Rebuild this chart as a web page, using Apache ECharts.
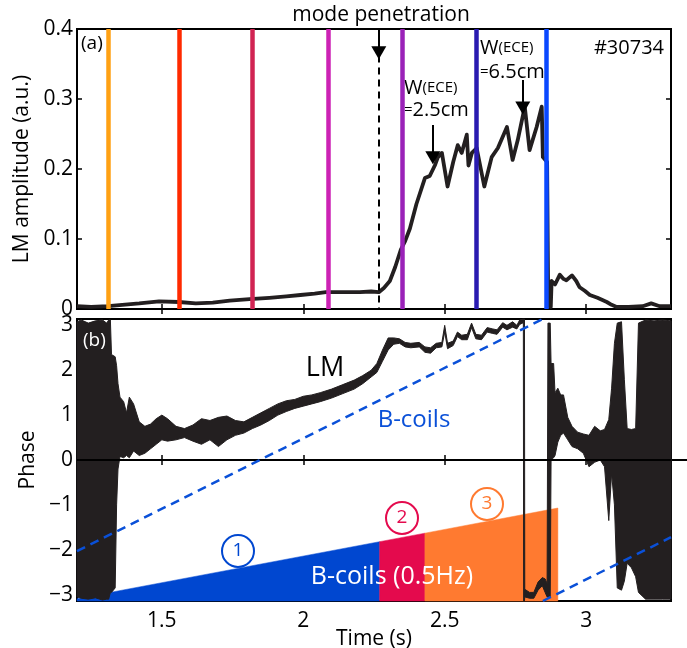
<!DOCTYPE html>
<html>
<head>
<meta charset="utf-8">
<script src="https://cdn.jsdelivr.net/npm/echarts@6/dist/echarts.min.js"></script>
<style>html,body{margin:0;padding:0;background:#fff}#main{width:687px;height:648px}</style>
</head>
<body>
<div id="main"></div>
<script>
var PI = Math.PI;
var FONT = '"Open Sans", sans-serif';

// (a) LM amplitude
var ampTime = [1.20, 1.25, 1.31, 1.36, 1.42, 1.49, 1.56, 1.62, 1.68, 1.74, 1.81, 1.88, 1.94, 1.99, 2.04, 2.08, 2.14, 2.20, 2.24, 2.267,
  2.285, 2.306, 2.325, 2.345, 2.36, 2.377, 2.40, 2.43, 2.447, 2.465, 2.476, 2.49, 2.51, 2.53, 2.546, 2.56, 2.578, 2.584, 2.596, 2.606,
  2.613, 2.64, 2.666, 2.688, 2.72, 2.74, 2.758, 2.783, 2.80, 2.825, 2.843, 2.847, 2.862, 2.866, 2.875, 2.878, 2.89, 2.907, 2.92, 2.93,
  2.95, 2.965, 2.977, 2.995, 3.013, 3.04, 3.073, 3.09, 3.108, 3.15, 3.20, 3.23, 3.26, 3.30];
var ampValue = [0.004, 0.003, 0.004, 0.006, 0.008, 0.011, 0.010, 0.008, 0.009, 0.012, 0.014, 0.016, 0.018, 0.020, 0.022, 0.024, 0.024, 0.024, 0.025, 0.024,
  0.030, 0.040, 0.060, 0.085, 0.097, 0.115, 0.150, 0.187, 0.190, 0.205, 0.217, 0.223, 0.175, 0.210, 0.234, 0.223, 0.249, 0.205, 0.223, 0.227,
  0.230, 0.175, 0.217, 0.230, 0.260, 0.213, 0.241, 0.289, 0.227, 0.260, 0.289, 0.217, 0.210, 0.005, 0.003, 0.040, 0.035, 0.049, 0.043, 0.041,
  0.048, 0.040, 0.031, 0.026, 0.020, 0.016, 0.010, 0.006, 0.003, 0.003, 0.004, 0.008, 0.004, 0.004];

// coloured time slices and mode penetration
var cutTimes = [1.306, 1.564, 1.825, 2.087, 2.345, 2.606, 2.864];
var cutColors = ['#ffa114', '#ff2a00', '#d12453', '#cc22b4', '#9a22b8', '#2a1bb0', '#0a48ff'];
var penetrationTime = 2.267;

// (b) LM phase, upper and lower edge of the noisy trace
var phaseTime = [1.200, 1.215, 1.240, 1.265, 1.290, 1.305, 1.312, 1.318, 1.322, 1.335, 1.340, 1.345, 1.352, 1.365, 1.375, 1.385,
  1.40, 1.42, 1.44, 1.46, 1.48, 1.50, 1.52, 1.55, 1.58, 1.61, 1.64, 1.67, 1.70, 1.73, 1.76, 1.79, 1.82, 1.85, 1.88, 1.91, 1.94, 1.97,
  2.00, 2.03, 2.06, 2.10, 2.14, 2.18, 2.21, 2.24, 2.26, 2.28, 2.30, 2.32, 2.34, 2.36, 2.38, 2.41, 2.43, 2.45, 2.47, 2.49, 2.50, 2.51,
  2.53, 2.545, 2.56, 2.58, 2.595, 2.61, 2.63, 2.65, 2.67, 2.685, 2.705, 2.72, 2.74, 2.755, 2.765, 2.778, 2.779, 2.782, 2.783, 2.80,
  2.815, 2.83, 2.845, 2.855, 2.862, 2.865, 2.873, 2.876, 2.885, 2.89, 2.90, 2.91, 2.92, 2.935, 2.95, 2.97, 2.99, 3.01, 3.03, 3.05,
  3.065, 3.08, 3.09, 3.10, 3.11, 3.125, 3.135, 3.145, 3.16, 3.175, 3.185, 3.21, 3.24, 3.27, 3.30];
var phaseHigh = [3.08, 3.12, 3.05, 3.10, 3.12, 3.05, 3.12, 3.12, 2.35, 2.30, 2.10, 1.70, 1.40, 1.30, 1.05, 1.40,
  1.25, 0.85, 0.75, 0.80, 0.92, 1.00, 0.92, 0.75, 0.70, 0.78, 0.92, 0.88, 0.95, 0.98, 0.88, 0.85, 0.95, 1.05, 1.15, 1.25, 1.32, 1.35,
  1.42, 1.45, 1.50, 1.58, 1.68, 1.78, 1.88, 2.00, 2.15, 2.45, 2.72, 2.72, 2.70, 2.62, 2.60, 2.62, 2.52, 2.50, 2.60, 2.62, 3.00, 2.60,
  2.65, 2.85, 2.78, 2.80, 3.05, 2.80, 2.78, 2.95, 2.92, 2.90, 3.06, 3.00, 3.08, 3.00, 3.12, 3.14, 3.14, 3.14, -2.88, -2.95,
  -2.95, -2.72, -2.62, -2.65, -2.75, 3.05, 3.05, 2.15, 2.15, 1.50, 1.60, 1.45, 1.45, 0.95, 0.75, 0.62, 0.58, 0.55, 0.75, 0.65,
  0.68, 0.90, 1.60, 2.60, 3.05, 3.08, 1.80, 0.70, 0.68, 0.70, 3.05, 3.12, 3.10, 3.12, 3.10];
var phaseLow = [-3.05, -3.08, -3.10, -3.07, -3.12, -3.10, -3.10, -2.95, -2.95, -2.85, -1.00, -0.20, 0.08, 0.05, 0.10, 0.05,
  0.20, 0.10, 0.15, 0.25, 0.35, 0.45, 0.42, 0.45, 0.50, 0.42, 0.35, 0.45, 0.30, 0.45, 0.55, 0.60, 0.70, 0.78, 0.88, 1.00, 1.08, 1.15,
  1.20, 1.25, 1.30, 1.38, 1.48, 1.58, 1.70, 1.85, 1.95, 2.20, 2.45, 2.58, 2.60, 2.52, 2.50, 2.52, 2.40, 2.38, 2.50, 2.52, 2.85, 2.48,
  2.55, 2.75, 2.68, 2.68, 2.95, 2.70, 2.68, 2.85, 2.82, 2.80, 2.96, 2.90, 2.96, 2.92, 3.02, 3.06, -3.14, -3.14, -3.05, -3.08,
  -3.08, -2.90, -2.80, -2.95, -3.05, -3.05, -3.05, 0.00, 0.05, 0.10, 0.40, 0.55, 0.60, 0.45, 0.30, 0.25, 0.15, -0.15, -0.05, 0.00,
  -0.15, -1.35, -0.30, -1.00, -2.85, -2.90, -2.70, -2.30, -2.40, -2.60, -2.95, -3.10, -3.10, -3.10, -3.10];

// B-coil phase (dashed), wrapped at +pi
var bcoilTime = [1.2, 2.847];
var bcoilPhase = [-2.03, PI];
var bcoilTime2 = [2.847, 3.3];
var bcoilPhase2 = [-PI, -1.72];

// shaded B-coil ramp, stages 1-3
var rampTime = [1.2, 2.27, 2.43, 2.9];
var rampPhase = [-3.09, -1.82, -1.63, -1.07];
var rampColors = ['#0047d0', '#e40a4d', '#ff7a30'];

var timeTicks = [1.5, 2, 2.5, 3];
var phaseTicks = [-3, -2, -1, 0, 1, 2, 3];

function pairs(xs, ys) {
  return xs.map(function (x, i) { return [x, ys[i]]; });
}

var tickStyle = { inside: true, length: 5, lineStyle: { color: '#000', width: 1.5 } };
var labelStyle = { color: '#000', fontSize: 21, fontFamily: FONT };
var nameStyle = { color: '#000', fontSize: 21, fontFamily: FONT };

function xAx(grid, pos, showLabel, extra) {
  var a = {
    type: 'value', gridIndex: grid, position: pos, min: 1.2, max: 3.3,
    axisLine: { show: false }, splitLine: { show: false },
    axisTick: Object.assign({ customValues: timeTicks }, tickStyle),
    axisLabel: Object.assign({ show: showLabel, customValues: timeTicks, margin: 10 }, labelStyle)
  };
  return Object.assign(a, extra || {});
}

function arrow(t, from, to) {
  return [
    { coord: [t, from], symbol: 'none', lineStyle: { color: '#000', width: 2, type: 'solid' } },
    { coord: [t, to], symbol: 'triangle', symbolSize: [15, 13] }
  ];
}

var option = {
  animation: false,
  backgroundColor: '#fff',
  grid: [
    { left: 77, right: 16, top: 29, height: 280, outerBoundsMode: 'none', containLabel: false,
      show: true, borderColor: '#000', borderWidth: 2, backgroundColor: 'transparent' },
    { left: 77, right: 16, top: 319, height: 282, outerBoundsMode: 'none', containLabel: false,
      show: true, borderColor: '#000', borderWidth: 2, backgroundColor: 'transparent' }
  ],
  xAxis: [
    xAx(0, 'bottom', false),
    xAx(0, 'top', false),
    xAx(1, 'bottom', true, {
      name: 'Time (s)', nameLocation: 'middle', nameGap: 28, nameMoveOverlap: false, nameTextStyle: nameStyle
    }),
    xAx(1, 'top', false)
  ],
  yAxis: [
    {
      type: 'value', gridIndex: 0, position: 'left', min: 0, max: 0.4, interval: 0.1,
      name: 'LM amplitude (a.u.)', nameLocation: 'middle', nameGap: 37, nameTextStyle: nameStyle,
      axisLine: { show: false }, splitLine: { show: false }, axisTick: tickStyle,
      axisLabel: Object.assign({ margin: 4 }, labelStyle)
    },
    {
      type: 'value', gridIndex: 0, position: 'right', min: 0, max: 0.4, interval: 0.1,
      axisLine: { show: false }, splitLine: { show: false }, axisTick: tickStyle, axisLabel: { show: false }
    },
    {
      type: 'value', gridIndex: 1, position: 'left', min: -PI, max: PI,
      name: 'Phase', nameLocation: 'middle', nameGap: 38, nameTextStyle: nameStyle,
      axisLine: { show: false }, splitLine: { show: false },
      axisTick: Object.assign({ customValues: phaseTicks }, tickStyle),
      axisLabel: Object.assign({
        margin: 4, customValues: phaseTicks,
        formatter: function (v) { return String(Math.round(v)).replace('-', '\u2212'); }
      }, labelStyle)
    },
    {
      type: 'value', gridIndex: 1, position: 'right', min: -PI, max: PI,
      axisLine: { show: false }, splitLine: { show: false },
      axisTick: Object.assign({ customValues: phaseTicks }, tickStyle), axisLabel: { show: false }
    }
  ],
  series: [
    // (a) coloured slice markers
    {
      type: 'line', xAxisIndex: 0, yAxisIndex: 0, data: [], silent: true,
      markLine: {
        silent: true, symbol: 'none', label: { show: false }, animation: false,
        data: cutTimes.map(function (t, i) {
          return { xAxis: t, lineStyle: { color: cutColors[i], width: 4.5, type: 'solid' } };
        })
      }
    },
    // (a) mode penetration and island width arrows
    {
      type: 'line', xAxisIndex: 0, yAxisIndex: 0, data: [], silent: true, z: 3,
      markLine: {
        silent: true, label: { show: false }, animation: false,
        data: [
          [{ coord: [penetrationTime, 0.362], symbol: 'none', lineStyle: { color: '#000', width: 2, type: [7, 5] } },
           { coord: [penetrationTime, 0.0], symbol: 'none' }],
          arrow(penetrationTime, 0.4, 0.366),
          arrow(2.458, 0.263, 0.216),
          arrow(2.776, 0.327, 0.287)
        ]
      }
    },
    {
      type: 'line', xAxisIndex: 0, yAxisIndex: 0, z: 4, showSymbol: false, silent: true,
      lineStyle: { color: '#231f20', width: 3.8, join: 'round' },
      data: pairs(ampTime, ampValue)
    },
    // (b) ramp fills
    {
      type: 'custom', xAxisIndex: 2, yAxisIndex: 2, silent: true, z: 1,
      data: rampColors.map(function (c, i) { return [rampTime[i], rampPhase[i]]; }),
      renderItem: function (params, api) {
        var i = params.dataIndex;
        var pts = [
          api.coord([rampTime[i], -PI]),
          api.coord([rampTime[i], rampPhase[i]]),
          api.coord([rampTime[i + 1], rampPhase[i + 1]]),
          api.coord([rampTime[i + 1], -PI])
        ];
        return { type: 'polygon', shape: { points: pts }, style: { fill: rampColors[i], stroke: rampColors[i], lineWidth: 0.5 } };
      }
    },
    // (b) zero line
    {
      type: 'line', xAxisIndex: 2, yAxisIndex: 2, data: [], silent: true, z: 2,
      markLine: {
        silent: true, symbol: 'none', label: { show: false }, animation: false,
        data: [{ yAxis: 0, lineStyle: { color: '#000', width: 2, type: 'solid' } }]
      }
    },
    // (b) LM phase band
    {
      type: 'custom', xAxisIndex: 2, yAxisIndex: 2, silent: true, z: 3,
      data: [[phaseTime[0], phaseHigh[0]]],
      renderItem: function (params, api) {
        var pts = [];
        for (var i = 0; i < phaseTime.length; i++) pts.push(api.coord([phaseTime[i], phaseHigh[i]]));
        for (var j = phaseTime.length - 1; j >= 0; j--) pts.push(api.coord([phaseTime[j], phaseLow[j]]));
        return { type: 'polygon', shape: { points: pts }, style: { fill: '#231f20', stroke: '#231f20', lineWidth: 1 } };
      }
    },
    // (b) B-coil phase
    {
      type: 'line', xAxisIndex: 2, yAxisIndex: 2, z: 5, showSymbol: false, silent: true,
      lineStyle: { color: '#0a50d8', width: 2.5, type: [9, 6] },
      data: pairs(bcoilTime, bcoilPhase)
    },
    {
      type: 'line', xAxisIndex: 2, yAxisIndex: 2, z: 5, showSymbol: false, silent: true,
      lineStyle: { color: '#0a50d8', width: 2.5, type: [9, 6] },
      data: pairs(bcoilTime2, bcoilPhase2)
    }
  ],
  graphic: [
    { type: 'line', shape: { x1: 671, y1: 460, x2: 687, y2: 460 }, style: { stroke: '#000', lineWidth: 2 } },
    { type: 'text', x: 381, y: 15, style: { text: 'mode penetration', fill: '#000', font: '21px ' + FONT, textAlign: 'center', textVerticalAlign: 'middle' } },
    { type: 'text', x: 81, y: 44, style: { text: '(a)', fill: '#000', font: '19px ' + FONT, textAlign: 'left', textVerticalAlign: 'middle' } },
    { type: 'text', x: 664, y: 48, style: { text: '#30734', fill: '#000', font: '20px ' + FONT, textAlign: 'right', textVerticalAlign: 'middle' } },
    { type: 'text', x: 404, y: 88, style: { text: '{a|W}{b|(ECE)}', textAlign: 'left', textVerticalAlign: 'middle',
        rich: { a: { fill: '#000', font: '20px ' + FONT }, b: { fill: '#000', font: '15px ' + FONT } } } },
    { type: 'text', x: 404, y: 110, style: { text: '{b|=}{a|2.5cm}', textAlign: 'left', textVerticalAlign: 'middle',
        rich: { a: { fill: '#000', font: '20px ' + FONT }, b: { fill: '#000', font: '15px ' + FONT } } } },
    { type: 'text', x: 480, y: 48, style: { text: '{a|W}{b|(ECE)}', textAlign: 'left', textVerticalAlign: 'middle',
        rich: { a: { fill: '#000', font: '20px ' + FONT }, b: { fill: '#000', font: '15px ' + FONT } } } },
    { type: 'text', x: 480, y: 72, style: { text: '{b|=}{a|6.5cm}', textAlign: 'left', textVerticalAlign: 'middle',
        rich: { a: { fill: '#000', font: '20px ' + FONT }, b: { fill: '#000', font: '15px ' + FONT } } } },
    { type: 'text', x: 83, y: 341, z: 10, style: { text: '(b)', fill: '#fff', font: '19px ' + FONT, textAlign: 'left', textVerticalAlign: 'middle' } },
    { type: 'text', x: 325, y: 368, style: { text: 'LM', fill: '#000', font: '27px ' + FONT, textAlign: 'center', textVerticalAlign: 'middle' } },
    { type: 'text', x: 414, y: 420, style: { text: 'B-coils', fill: '#0a50d8', font: '24px ' + FONT, textAlign: 'center', textVerticalAlign: 'middle' } },
    { type: 'text', x: 392, y: 577, z: 10, style: { text: 'B-coils (0.5Hz)', fill: '#fff', font: '25px ' + FONT, textAlign: 'center', textVerticalAlign: 'middle' } },
    { type: 'circle', shape: { cx: 238, cy: 551, r: 16 }, style: { fill: 'none', stroke: '#0047d0', lineWidth: 2 } },
    { type: 'text', x: 238, y: 551, style: { text: '1', fill: '#0047d0', font: '19px ' + FONT, textAlign: 'center', textVerticalAlign: 'middle' } },
    { type: 'circle', shape: { cx: 402, cy: 518, r: 16 }, style: { fill: 'none', stroke: '#e40a4d', lineWidth: 2 } },
    { type: 'text', x: 402, y: 518, style: { text: '2', fill: '#e40a4d', font: '19px ' + FONT, textAlign: 'center', textVerticalAlign: 'middle' } },
    { type: 'circle', shape: { cx: 487, cy: 504, r: 16 }, style: { fill: 'none', stroke: '#ff7a30', lineWidth: 2 } },
    { type: 'text', x: 487, y: 504, style: { text: '3', fill: '#ff7a30', font: '19px ' + FONT, textAlign: 'center', textVerticalAlign: 'middle' } }
  ]
};

var myChart = echarts.init(document.getElementById('main'));
myChart.setOption(option);
</script>
</body>
</html>
